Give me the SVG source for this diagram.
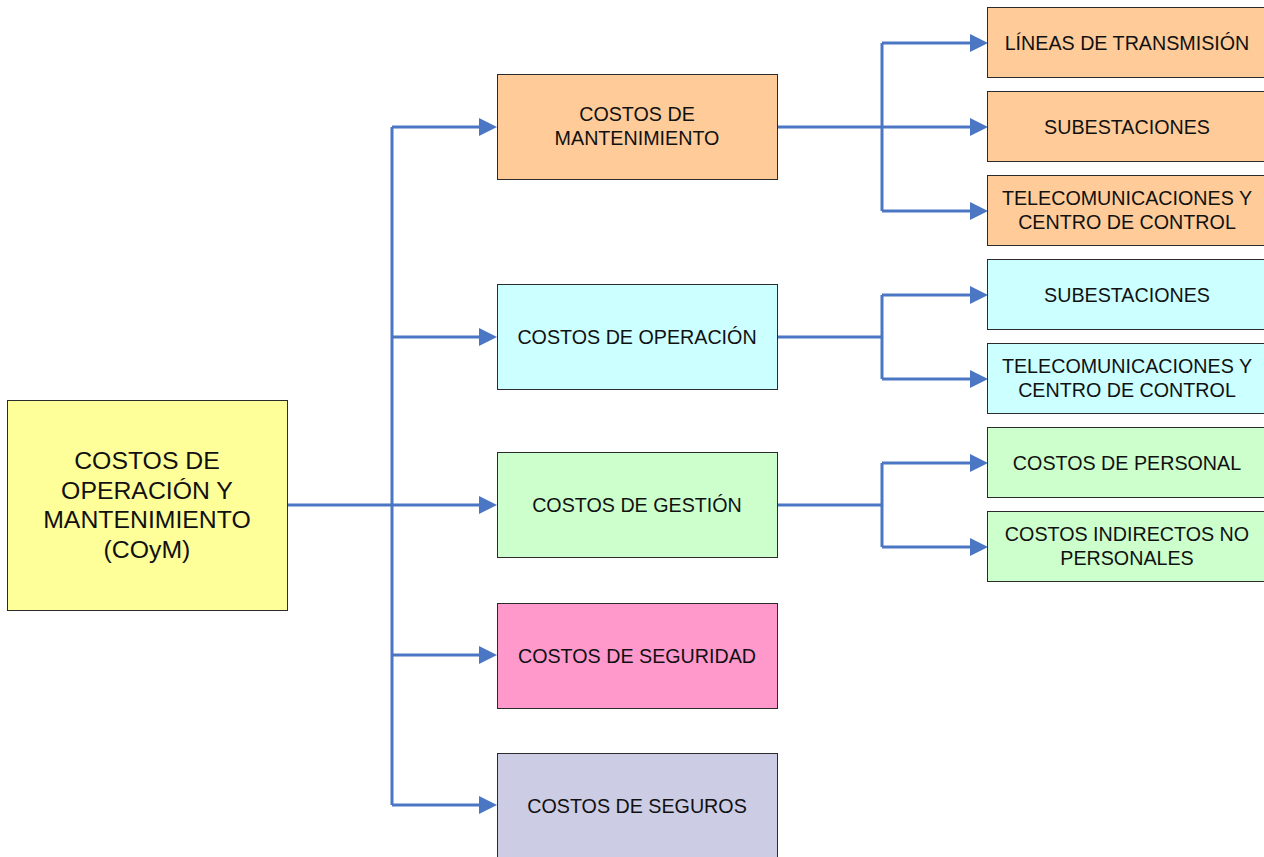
<svg xmlns="http://www.w3.org/2000/svg" width="1264" height="857" viewBox="0 0 1264 857">
<style>
.box{stroke:#2b2b2b;stroke-width:1}
.t{font-family:"Liberation Sans",Arial,sans-serif;font-size:19.7px;fill:#111;text-anchor:middle}
.tr{font-family:"Liberation Sans",Arial,sans-serif;font-size:24.8px;fill:#111;text-anchor:middle}
.c{fill:none;stroke:#4A76C4;stroke-width:3}
</style>
<defs>
<marker id="ah" markerUnits="userSpaceOnUse" markerWidth="18" markerHeight="18" refX="11" refY="9" orient="auto">
<path d="M0,0 L18,9 L0,18 z" fill="#4A76C4"/>
</marker>
</defs>
<rect width="1264" height="857" fill="#fff"/>
<g id="connectors">
<path class="c" d="M287,505 H392 M392,127 V805"/>
<path class="c" d="M392,127 H490" marker-end="url(#ah)"/>
<path class="c" d="M392,337 H490" marker-end="url(#ah)"/>
<path class="c" d="M392,505 H490" marker-end="url(#ah)"/>
<path class="c" d="M392,655 H490" marker-end="url(#ah)"/>
<path class="c" d="M392,805 H490" marker-end="url(#ah)"/>
<path class="c" d="M882,43 V211"/>
<path class="c" d="M777,127 H981" marker-end="url(#ah)"/>
<path class="c" d="M882,43 H981" marker-end="url(#ah)"/>
<path class="c" d="M882,211 H981" marker-end="url(#ah)"/>
<path class="c" d="M777,337 H882 M882,295 V379"/>
<path class="c" d="M882,295 H981" marker-end="url(#ah)"/>
<path class="c" d="M882,379 H981" marker-end="url(#ah)"/>
<path class="c" d="M777,505 H882 M882,463 V547"/>
<path class="c" d="M882,463 H981" marker-end="url(#ah)"/>
<path class="c" d="M882,547 H981" marker-end="url(#ah)"/>
</g>
<g id="root">
<rect class="box" x="7.5" y="400.5" width="280" height="210" fill="#FFFF99"/>
<text class="tr" x="147" y="469">COSTOS DE</text>
<text class="tr" x="147" y="498.5">OPERACIÓN Y</text>
<text class="tr" x="147" y="528">MANTENIMIENTO</text>
<text class="tr" x="147" y="557.5">(COyM)</text>
</g>
<g id="mantenimiento">
<rect class="box" x="497.5" y="74.5" width="280" height="105" fill="#FFCC99"/>
<text class="t" x="637" y="121">COSTOS DE</text>
<text class="t" x="637" y="145">MANTENIMIENTO</text>
</g>
<g id="operacion">
<rect class="box" x="497.5" y="284.5" width="280" height="105" fill="#CCFFFF"/>
<text class="t" x="637" y="343.5">COSTOS DE OPERACIÓN</text>
</g>
<g id="gestion">
<rect class="box" x="497.5" y="452.5" width="280" height="105" fill="#CCFFCC"/>
<text class="t" x="637" y="511.5">COSTOS DE GESTIÓN</text>
</g>
<g id="seguridad">
<rect class="box" x="497.5" y="603.5" width="280" height="105" fill="#FF99CC"/>
<text class="t" x="637" y="662.5">COSTOS DE SEGURIDAD</text>
</g>
<g id="seguros">
<rect class="box" x="497.5" y="753.5" width="280" height="110" fill="#CCCCE5"/>
<text class="t" x="637" y="812.5">COSTOS DE SEGUROS</text>
</g>
<g id="lineas">
<rect class="box" x="987.5" y="7.5" width="280" height="70" fill="#FFCC99"/>
<text class="t" x="1127" y="49.5">LÍNEAS DE TRANSMISIÓN</text>
</g>
<g id="subestaciones-m">
<rect class="box" x="987.5" y="91.5" width="280" height="70" fill="#FFCC99"/>
<text class="t" x="1127" y="133.5">SUBESTACIONES</text>
</g>
<g id="telecom-m">
<rect class="box" x="987.5" y="175.5" width="280" height="70" fill="#FFCC99"/>
<text class="t" x="1127" y="204.5">TELECOMUNICACIONES Y</text>
<text class="t" x="1127" y="228.5">CENTRO DE CONTROL</text>
</g>
<g id="subestaciones-o">
<rect class="box" x="987.5" y="259.5" width="280" height="70" fill="#CCFFFF"/>
<text class="t" x="1127" y="301.5">SUBESTACIONES</text>
</g>
<g id="telecom-o">
<rect class="box" x="987.5" y="343.5" width="280" height="70" fill="#CCFFFF"/>
<text class="t" x="1127" y="372.5">TELECOMUNICACIONES Y</text>
<text class="t" x="1127" y="396.5">CENTRO DE CONTROL</text>
</g>
<g id="personal">
<rect class="box" x="987.5" y="427.5" width="280" height="70" fill="#CCFFCC"/>
<text class="t" x="1127" y="469.5">COSTOS DE PERSONAL</text>
</g>
<g id="indirectos">
<rect class="box" x="987.5" y="511.5" width="280" height="70" fill="#CCFFCC"/>
<text class="t" x="1127" y="540.5">COSTOS INDIRECTOS NO</text>
<text class="t" x="1127" y="564.5">PERSONALES</text>
</g>
</svg>
